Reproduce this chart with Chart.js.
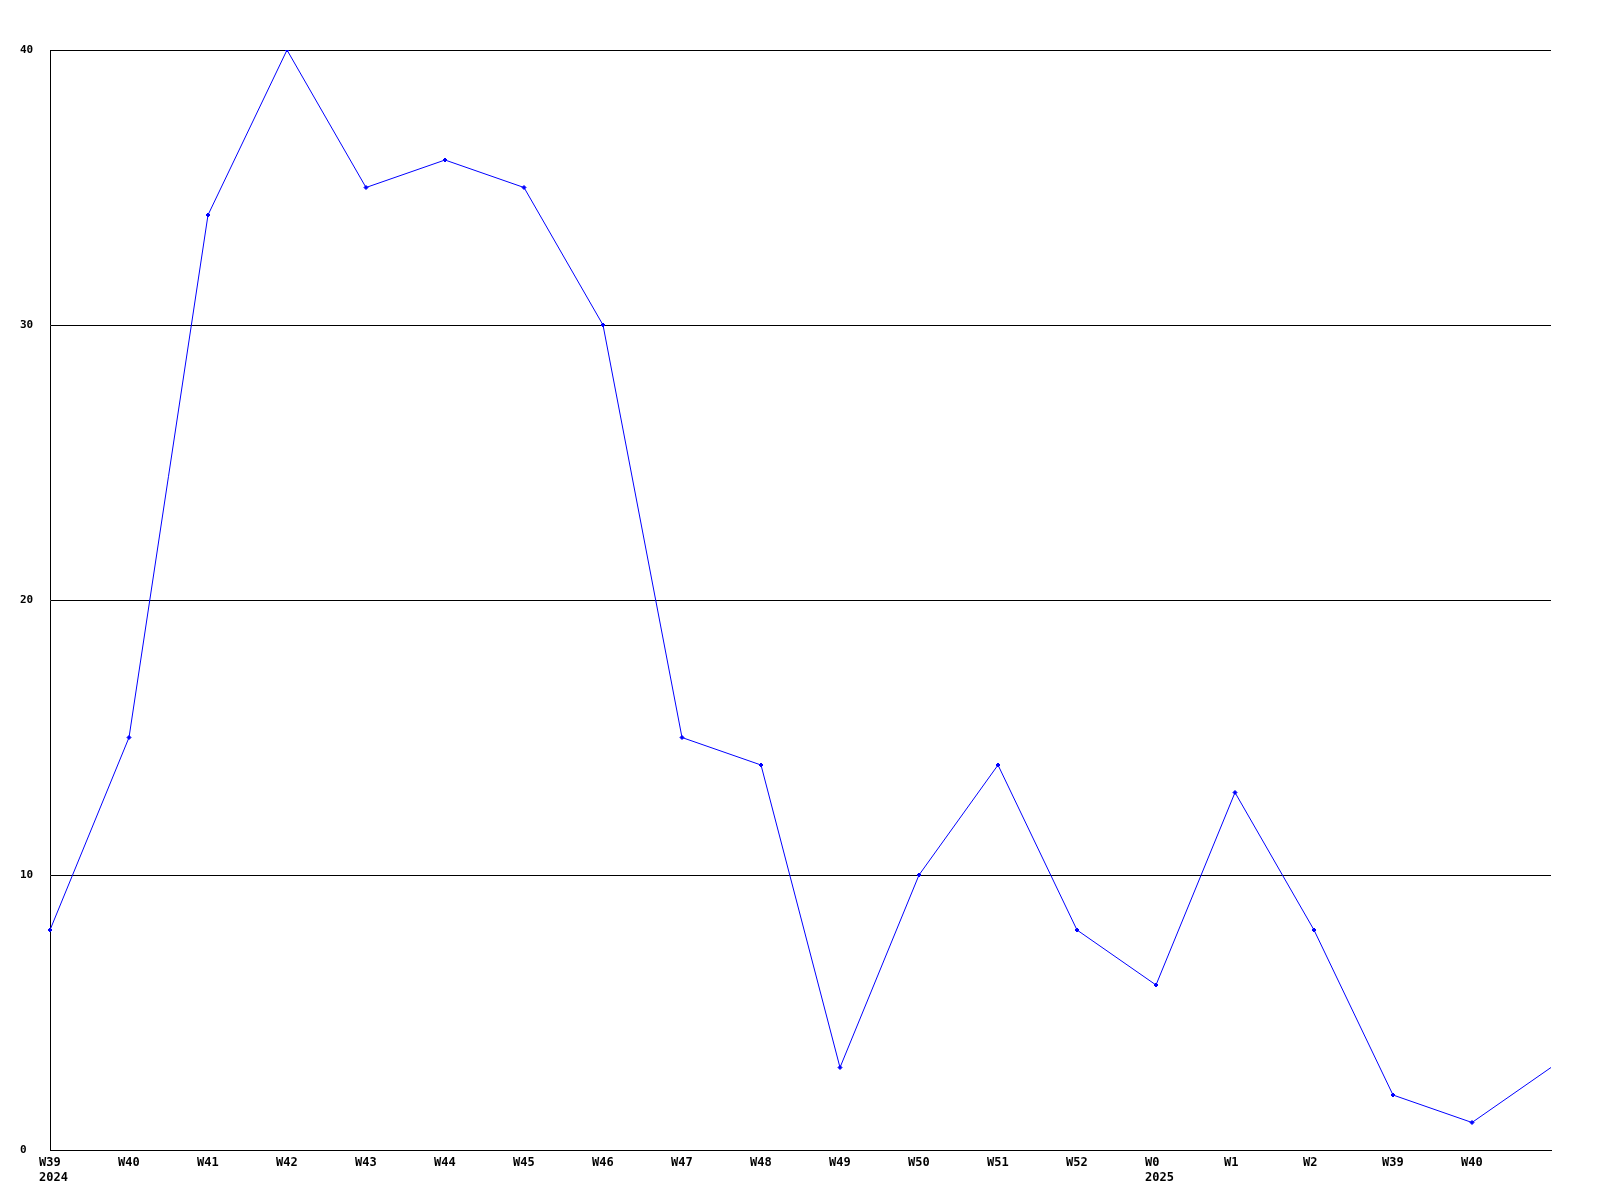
<!DOCTYPE html>
<html>
<head>
<meta charset="utf-8">
<script src="https://cdn.jsdelivr.net/npm/chart.js@4"></script>
<style>
  html, body { margin: 0; padding: 0; background: #fff; }
  canvas { display: block; }
</style>
</head>
<body>
<canvas id="chart" width="1600" height="1200"></canvas>
<script>
// week labels (second line = year where it starts)
const weeks = ['W39', 'W40', 'W41', 'W42', 'W43', 'W44', 'W45', 'W46', 'W47', 'W48',
               'W49', 'W50', 'W51', 'W52', 'W0', 'W1', 'W2', 'W39', 'W40', ''];
const years = ['2024', '', '', '', '', '', '', '', '', '',
               '', '', '', '', '2025', '', '', '', '', ''];
const counts = [8, 15, 34, 40, 35, 36, 35, 30, 15, 14, 3, 10, 14, 8, 6, 13, 8, 2, 1, 3];
const yTicks = [0, 10, 20, 30, 40];

const labelFont = 'bold 12px "DejaVu Sans Mono", monospace';

// draws the x labels left-aligned, a bit left of each tick
const xLabelPlugin = {
    id: 'xLabels',
    afterDraw(chart) {
        const ctx = chart.ctx;
        const xs = chart.scales.x;
        const bottom = chart.chartArea.bottom;
        ctx.save();
        ctx.font = labelFont;
        ctx.fillStyle = '#000';
        ctx.textAlign = 'left';
        ctx.textBaseline = 'alphabetic';
        for (let i = 0; i < weeks.length; i++) {
            const px = xs.getPixelForTick(i) - 11;
            if (weeks[i]) ctx.fillText(weeks[i], px, bottom + 16);
            if (years[i]) ctx.fillText(years[i], px, bottom + 31);
        }
        ctx.restore();
    }
};

const ctx = document.getElementById('chart');
new Chart(ctx, {
    type: 'line',
    data: {
        labels: weeks,
        datasets: [{
            data: counts,
            borderColor: '#0000ff',
            backgroundColor: '#0000ff',
            borderWidth: 1,
            tension: 0,
            pointStyle: 'rectRot',
            // last point (unlabelled) has no marker
            pointRadius: counts.map((v, i) => weeks[i] ? 2 : 0),
            pointBorderWidth: 1,
            fill: false
        }]
    },
    options: {
        responsive: false,
        animation: false,
        devicePixelRatio: 1,
        layout: { padding: { left: 20, right: 49, top: 50, bottom: 50 } },
        plugins: { legend: { display: false }, tooltip: { enabled: false } },
        scales: {
            x: {
                ticks: { display: false },
                grid: { display: false, drawTicks: false },
                border: { display: true, color: '#000', width: 1 }
            },
            y: {
                min: 0,
                max: 40,
                afterBuildTicks(scale) {
                    scale.ticks = yTicks.map(v => ({ value: v }));
                },
                afterFit(scale) { scale.width = 30; },
                ticks: {
                    font: { family: '"DejaVu Sans Mono", monospace', size: 11, weight: 'bold' },
                    color: '#000',
                    crossAlign: 'far',
                    padding: 0
                },
                grid: { color: '#000', lineWidth: 1, drawTicks: false },
                border: { display: true, color: '#000', width: 1 }
            }
        }
    },
    plugins: [xLabelPlugin]
});
</script>
</body>
</html>
